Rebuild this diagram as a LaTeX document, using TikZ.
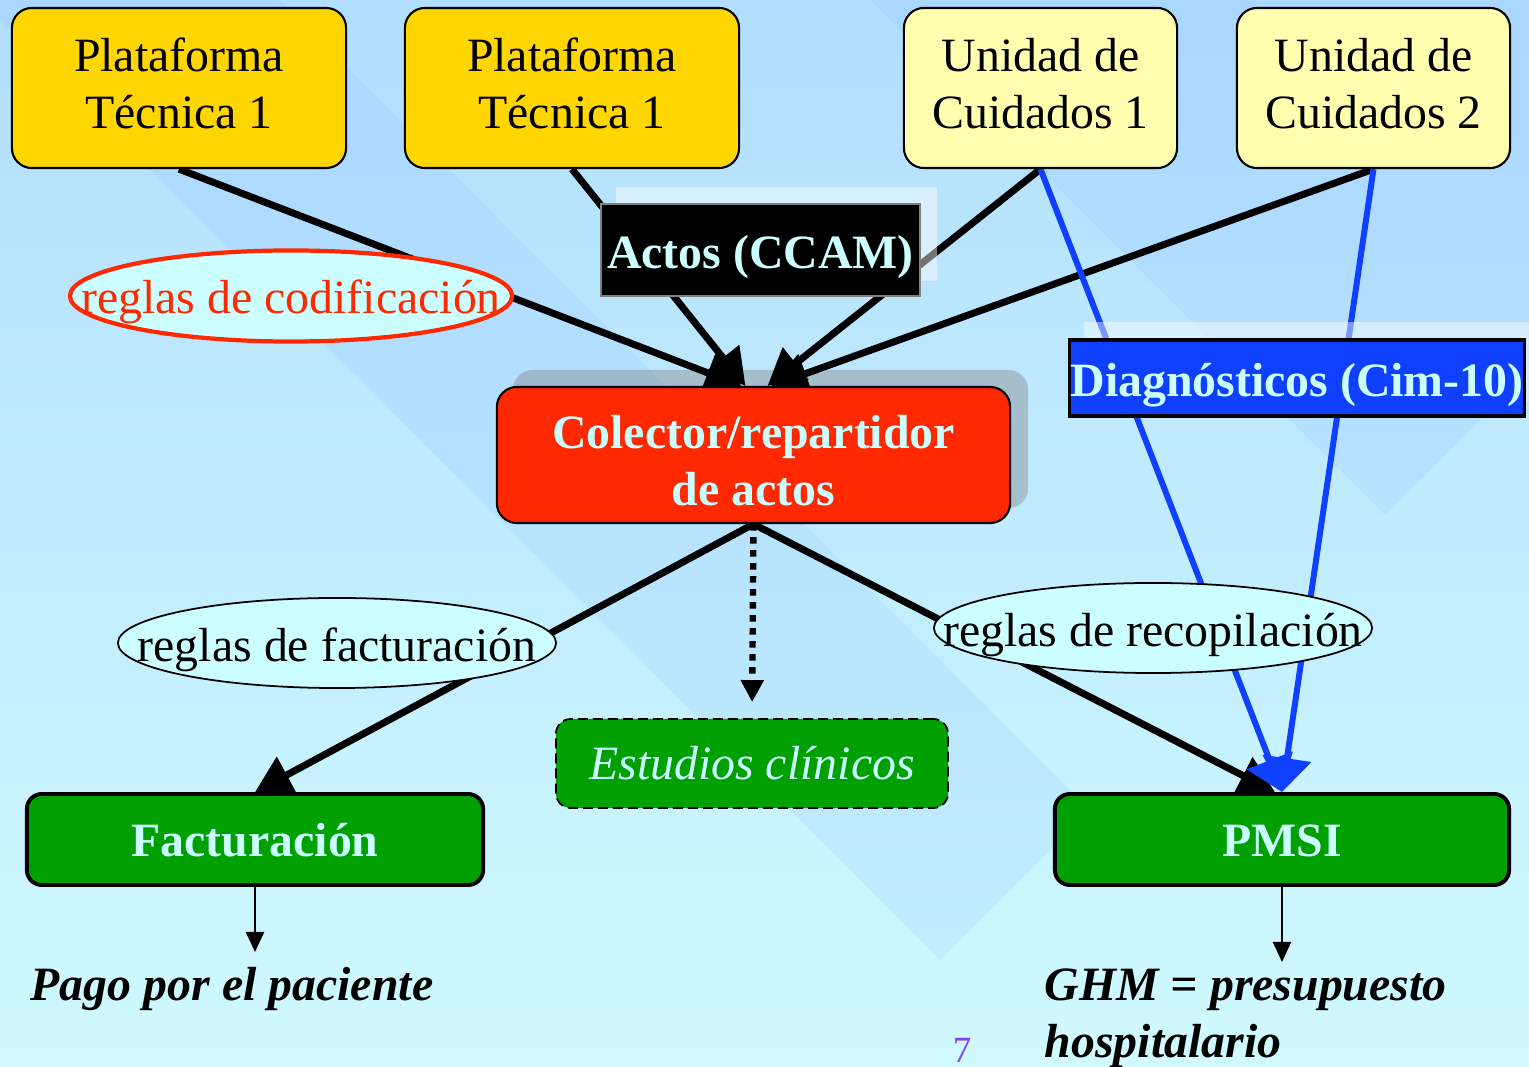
\documentclass[tikz,border=0pt]{standalone}
\usepackage{fontspec}
\setmainfont{Liberation Serif}
\usetikzlibrary{arrows.meta,calc,shapes.geometric}
\definecolor{bgtop}{RGB}{178,222,255}
\definecolor{bgbot}{RGB}{208,250,255}
\definecolor{band}{RGB}{120,170,255}
\definecolor{ptyellow}{RGB}{255,214,0}
\definecolor{ucyellow}{RGB}{255,255,175}
\definecolor{colred}{RGB}{255,40,0}
\definecolor{diagblue}{RGB}{16,64,255}
\definecolor{boxgreen}{RGB}{0,160,0}
\definecolor{lcyan}{RGB}{204,255,255}
\definecolor{pagenum}{RGB}{128,64,255}
\pgfdeclarelayer{bg}
\pgfdeclarelayer{lines}
\pgfdeclarelayer{hl}
\pgfsetlayers{bg,lines,hl,main}
% text placed with its (first) baseline #1 below the node centre, zero height
\newcommand{\bl}[2]{\raisebox{-#1}[0pt][0pt]{#2}}
\newcommand{\twol}[3]{\raisebox{-#1}[0pt][0pt]{\begin{tabular}[t]{@{}c@{}}#2\\#3\end{tabular}}}
\tikzset{
  every node/.style={font=\fontsize{13.6}{16.2}\selectfont, inner sep=0pt, align=center},
  topbox/.style={draw=black, line width=0.6pt, rounded corners=0.2cm, minimum height=1.6cm},
  ellbox/.style={ellipse, fill=lcyan, minimum height=0.9cm},
  greenbox/.style={draw=black, line width=1.1pt, fill=boxgreen, rounded corners=0.15cm, text=lcyan,
                   minimum height=0.91cm, font=\fontsize{13.6}{16.2}\selectfont\bfseries},
  blk/.style={draw=black, line width=2pt, -{Triangle[length=0.36cm,width=0.40cm]}},
  bluel/.style={draw=diagblue, line width=1.7pt, -{Triangle[length=0.34cm,width=0.48cm]}},
  thin/.style={draw=black, line width=0.6pt, -{Triangle[length=0.2cm,width=0.18cm]}},
}
\begin{document}
\begin{tikzpicture}[x=0.01cm,y=-0.01cm]
\useasboundingbox (0,0) rectangle (1529,1067);
% ---------- nodes ----------
\node[topbox, fill=ptyellow, minimum width=3.34cm] (pt1) at (179,88) {\twol{-0.16cm}{Plataforma}{Técnica 1}};
\node[topbox, fill=ptyellow, minimum width=3.34cm] (pt2) at (572,88) {\twol{-0.16cm}{Plataforma}{Técnica 1}};
\node[topbox, fill=ucyellow, minimum width=2.73cm] (uc1) at (1040.5,88) {\twol{-0.16cm}{Unidad de}{Cuidados 1}};
\node[topbox, fill=ucyellow, minimum width=2.73cm] (uc2) at (1373.5,88) {\twol{-0.16cm}{Unidad de}{Cuidados 2}};
\node[fill=black, draw=gray, line width=0.4pt, minimum width=3.19cm, minimum height=0.92cm, text=lcyan,
      font=\fontsize{13.6}{16.2}\selectfont\bfseries] (actos) at (760.5,250) {\bl{0.18cm}{Actos (CCAM)}};
\node[ellbox, draw=colred, line width=1.2pt, minimum width=4.42cm, minimum height=0.91cm, text=colred]
      (cod) at (291,296) {\makebox[0pt]{\bl{0.17cm}{reglas de codificación}}};
\node[draw=black, line width=0.6pt, fill=colred, rounded corners=0.2cm, minimum width=5.13cm, minimum height=1.36cm,
      text=lcyan, font=\fontsize{13.6}{16.2}\selectfont\bfseries] (col) at (753.5,455)
      {\twol{-0.06cm}{Colector/repartidor}{de actos}};
\node[draw=black, line width=0.9pt, fill=diagblue, minimum width=4.54cm, minimum height=0.76cm, text=lcyan,
      font=\fontsize{13.6}{16.2}\selectfont\bfseries] (diag) at (1297,378) {\bl{0.18cm}{Diagnósticos (Cim-10)}};
\node[ellbox, draw=black, line width=0.5pt, minimum width=4.38cm] (fac) at (337,643)
      {\makebox[0pt]{\bl{0.18cm}{reglas de facturación}}};
\node[ellbox, draw=black, line width=0.5pt, minimum width=4.38cm] (rec) at (1153,628)
      {\makebox[0pt]{\bl{0.18cm}{reglas de recopilación}}};
\node[draw=black, line width=0.5pt, dash pattern=on 0.1cm off 0.05cm, fill=boxgreen, rounded corners=0.15cm,
      minimum width=3.92cm, minimum height=0.89cm, text=lcyan, font=\fontsize{13.6}{16.2}\selectfont\itshape]
      (est) at (752,763.5) {\bl{0.16cm}{Estudios clínicos}};
\node[greenbox, minimum width=4.56cm] (fact) at (255,839.5) {\bl{0.165cm}{Facturación}};
\node[greenbox, minimum width=4.54cm] (pmsi) at (1282,839.5) {\bl{0.165cm}{PMSI}};
\node[anchor=base, font=\fontsize{13.6}{16.2}\selectfont\bfseries\itshape] (pago) at (232,1001) {Pago por el paciente};
\node[anchor=base west, font=\fontsize{13.6}{16.2}\selectfont\bfseries\itshape] (ghm) at (1044,1001)
      {\begin{tabular}[t]{@{}l@{}}GHM = presupuesto\\hospitalario\end{tabular}};
\node[anchor=base, text=pagenum, font=\fontsize{10.5}{12}\selectfont] (num) at (962,1063) {7};
\coordinate (pagoend) at (255,952);
\coordinate (ghmend) at (1282,962);
% ---------- background ----------
\begin{pgfonlayer}{bg}
  \shade[top color=bgtop, bottom color=bgbot] (0,0) rectangle (1529,1067);
  \begin{scope}
    \clip (0,0) rectangle (1529,1067);
    \fill[band, opacity=0.13] (-20,0) -- (280,0) -- (1090,810) -- (940,960) -- cycle;
    \fill[band, opacity=0.13] (870,0) -- (1600,0) -- (1600,300) -- (1385,515) -- cycle;
  \end{scope}
  \fill[gray, opacity=0.4, rounded corners=0.2cm]
    ($(col.south west)+(17,-16)$) rectangle ($(col.north east)+(17,-16)$);
\end{pgfonlayer}
% ---------- connectors ----------
\begin{pgfonlayer}{lines}
  \draw[blk] (pt1.south) -- ($(col.north)+(-12,0)$);
  \draw[blk] (pt2.south) -- ($(col.north)+(-8,0)$);
  \draw[blk] (uc1.south) -- ($(col.north)+(14,0)$);
  \draw[blk] (uc2.south) -- ($(col.north)+(18,0)$);
  \draw[blk] (col.south) -- (fact.north);
  \draw[blk] (col.south) -- ($(pmsi.north)+(-7,0)$);
  \draw[draw=black, line width=1.8pt, dash pattern=on 0.065cm off 0.065cm,
        -{Triangle[length=0.22cm,width=0.22cm]}, shorten >=0.16cm] (col.south) -- (est.north);
  \draw[bluel] (uc1.south) -- (pmsi.north);
  \draw[bluel] (uc2.south) -- (pmsi.north);
  \draw[thin] (fact.south) -- (pagoend);
  \draw[thin] (pmsi.south) -- (ghmend);
\end{pgfonlayer}
% ---------- highlights ----------
\begin{pgfonlayer}{hl}
  \begin{scope}
    \clip (0,0) rectangle (1529,1067);
    \fill[white, opacity=0.45] ($(actos.south west)+(16,-16)$) rectangle ($(actos.north east)+(16,-16)$);
    \fill[white, opacity=0.45] ($(diag.south west)+(16,-16)$) rectangle ($(diag.north east)+(16,-16)$);
  \end{scope}
\end{pgfonlayer}
\end{tikzpicture}
\end{document}
